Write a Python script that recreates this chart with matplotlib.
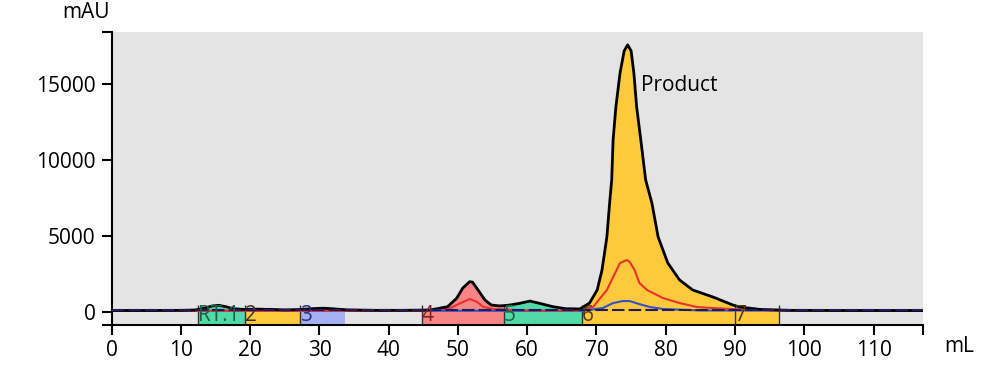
import numpy as np
import matplotlib.pyplot as plt
from matplotlib.ticker import FixedLocator

plt.rcParams['font.family'] = ['Open Sans', 'DejaVu Sans']

# UV-кривая (основной канал), мл / mAU
vol = [0, 5, 10, 12, 13.5, 14.5, 15.5, 16.5, 17.5, 19, 21, 23, 25, 27, 29, 30.5, 32, 34,
       38, 42, 46, 48.5, 49.8, 50.7, 51.7, 52.1, 52.9, 53.9, 54.8, 56.0, 56.6, 57.5, 58.9,
       60.4, 61.8, 63.7, 65.5, 67.6, 69.0, 70.1, 70.8, 71.5, 71.9, 72.2, 72.4, 72.8, 73.4,
       74.0, 74.5, 75.0, 75.4, 75.8, 76.4, 77.1, 78.0, 78.9, 80.3, 82.0, 83.9, 86.8, 89.7,
       90.7, 93.6, 97.9, 105, 117]
uv = [80, 80, 90, 110, 250, 380, 420, 330, 200, 150, 170, 150, 120, 140, 200, 230, 190, 120,
      90, 90, 110, 330, 880, 1560, 1980, 1950, 1430, 770, 440, 380, 400, 440, 550,
      700, 550, 330, 200, 180, 570, 1430, 2750, 4930, 7170, 8690, 11330, 13500, 15740,
      17200, 17600, 17200, 15740, 13500, 11330, 8690, 7170, 4930, 3210, 2090, 1430, 970, 440,
      310, 150, 90, 80, 80]

# второй канал (красный)
vol_red = [0, 45, 48.8, 50.3, 51.7, 52.7, 53.6, 55.0, 60, 67, 69.5, 71.5, 72.4, 73.4, 74.4,
           74.8, 75.5, 76.2, 77.3, 79.6, 82.0, 84.5, 86.8, 89.3, 95, 117]
red = [60, 60, 220, 550, 840, 660, 330, 180, 80, 70, 310, 1430, 2280, 3210, 3410,
       3280, 2750, 1890, 1430, 900, 570, 310, 240, 180, 80, 60]

# третий канал (синий)
vol_blue = [0, 68, 70.9, 72.4, 73.8, 74.8, 76.2, 77.7, 79.6, 85, 117]
blue = [60, 60, 240, 570, 700, 700, 500, 310, 180, 80, 60]

# фракции
frac_names = ['RT.1', '2', '3', '4', '5', '6', '7']
frac_start = [12.4, 19.2, 27.2, 44.8, 56.6, 67.9, 90.0]
frac_end = [19.2, 27.2, 33.7, 56.6, 67.9, 90.0, 96.3]
frac_colors = ['#52d9a8', '#ffc93d', '#a3b1f2', '#f78585', '#52d9a8', '#ffc93d', '#ffc93d']
frac_text = ['#1c5e46', '#3a3020', '#26327a', '#7a2222', '#1c5e46', '#4a3a10', '#4a3a10']

fig = plt.figure(figsize=(9.99, 3.79), dpi=100)
ax = fig.add_axes([0.1118, 0.1425, 0.8118, 0.774])
ax.set_facecolor('#e4e4e4')

x = np.array(vol)
y = np.array(uv)

# заливка под пиками по фракциям
for s, e, c in zip(frac_start, frac_end, frac_colors):
    ax.fill_between(x, 0, y, where=(x >= s) & (x <= e), color=c, lw=0, zorder=2)

# полосы фракций
ax.bar(frac_start, 830, width=np.array(frac_end) - np.array(frac_start), bottom=-830,
       align='edge', color=frac_colors, lw=0, zorder=2)
ax.vlines(frac_start + [frac_end[-1]], -830, 420, color='#333333', lw=1, zorder=3)
for s, n, c in zip(frac_start, frac_names, frac_text):
    ax.text(s, -230, n, ha='left', va='center', fontsize=15, color=c, zorder=7)

ax.plot(vol_blue, blue, color='#3552c4', lw=1.5, zorder=4)
ax.plot(vol_red, red, color='#e8322a', lw=1.5, zorder=4)
ax.plot(x, y, color='black', lw=2, zorder=5)
ax.axhline(100, color='#1c1c5c', lw=1.5, ls=(0, (6, 2)), zorder=6)

ax.text(76.4, 14950, 'Product', va='center', ha='left', fontsize=15)

ax.set_xlim(0, 117.1)
ax.set_ylim(-877, 18470)
ax.set_xticks(range(0, 111, 10))
ax.set_yticks([0, 5000, 10000, 15000])
ax.xaxis.set_minor_locator(FixedLocator([117.1]))
ax.yaxis.set_minor_locator(FixedLocator([-877, 18470]))
ax.tick_params(which='both', direction='out', length=7.5, width=1.5, labelsize=15)
ax.tick_params(axis='x', pad=3)
ax.tick_params(axis='y', pad=4)
for sp in ['top', 'right']:
    ax.spines[sp].set_visible(False)
for sp in ['left', 'bottom']:
    ax.spines[sp].set_linewidth(1.5)

fig.text(86 / 999, 1 - 13 / 379, 'mAU', ha='center', va='center', fontsize=15)
fig.text(959 / 999, 1 - 346 / 379, 'mL', ha='center', va='center', fontsize=15)

plt.savefig('out.png', dpi=100)
